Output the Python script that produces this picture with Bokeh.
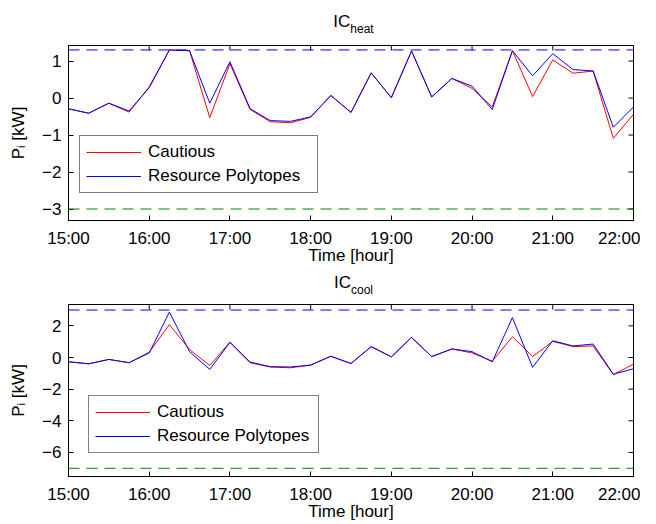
import math
from bokeh.plotting import figure
from bokeh.layouts import column
from bokeh.models import Span, Legend, LegendItem, FixedTicker, Div
from bokeh.embed import file_html
from bokeh.resources import INLINE

# ---- data ----
times = ["15:00", "15:15", "15:30", "15:45", "16:00", "16:15", "16:30", "16:45",
         "17:00", "17:15", "17:30", "17:45", "18:00", "18:15", "18:30", "18:45",
         "19:00", "19:15", "19:30", "19:45", "20:00", "20:15", "20:30", "20:45",
         "21:00", "21:15", "21:30", "21:45", "22:00"]

heat_cautious = [-0.29, -0.41, -0.14, -0.38, 0.30, 1.30, 1.28, -0.53, 0.93, -0.31,
                 -0.64, -0.67, -0.52, 0.07, -0.39, 0.68, 0.01, 1.27, 0.03, 0.53,
                 0.26, -0.24, 1.28, 0.04, 1.03, 0.67, 0.73, -1.09, -0.44]
heat_polytopes = [-0.29, -0.41, -0.14, -0.35, 0.28, 1.30, 1.28, -0.14, 0.98, -0.29,
                  -0.61, -0.63, -0.51, 0.07, -0.39, 0.68, 0.01, 1.27, 0.03, 0.53,
                  0.32, -0.31, 1.28, 0.60, 1.20, 0.77, 0.73, -0.79, -0.24]

cool_cautious = [-0.27, -0.40, -0.12, -0.33, 0.33, 2.08, 0.50, -0.50, 0.96, -0.33,
                 -0.60, -0.65, -0.48, 0.08, -0.38, 0.69, 0.04, 1.27, 0.06, 0.54,
                 0.29, -0.23, 1.31, 0.06, 1.02, 0.69, 0.73, -1.08, -0.42]
cool_polytopes = [-0.27, -0.40, -0.12, -0.33, 0.29, 2.87, 0.37, -0.75, 0.96, -0.29,
                  -0.58, -0.60, -0.48, 0.08, -0.38, 0.69, 0.04, 1.27, 0.06, 0.54,
                  0.37, -0.27, 2.52, -0.62, 1.06, 0.73, 0.85, -1.06, -0.71]

heat_upper, heat_lower = 1.3, -3.0
cool_upper, cool_lower = 3.0, -7.0

x_tick_labels = ["15:00", "16:00", "17:00", "18:00", "19:00", "20:00", "21:00", "22:00"]
heat_yticks = [-3, -2, -1, 0, 1]
cool_yticks = [-6, -4, -2, 0, 2]
series_names = ["Cautious", "Resource Polytopes"]
series_colors = ["#ff0000", "#0000ff"]

FONT = "Liberation Sans"


def to_hours(s):
    h, m = s.split(":")
    return int(h) + int(m) / 60.0


def fmt(v):
    return str(v).replace("-", "\u2212")


x = [to_hours(t) for t in times]
x_ticks = [to_hours(t) for t in x_tick_labels]
X0, X1 = x_ticks[0], x_ticks[-1]


def style_axis(ax):
    ax.major_tick_in = 5
    ax.major_tick_out = 0
    ax.minor_tick_in = 0
    ax.minor_tick_out = 0
    ax.axis_line_color = "black"
    ax.major_tick_line_color = "black"
    ax.major_label_text_font = FONT
    ax.major_label_text_color = "black"
    ax.major_label_text_font_size = "17px"
    ax.axis_label_text_font = FONT
    ax.axis_label_text_font_style = "normal"
    ax.axis_label_text_font_size = "17px"
    ax.axis_label_text_color = "black"


def make_title(sub, height, pad_top):
    html = ('<div style="width:565px;font-family:\'Liberation Sans\',Arial,sans-serif;'
            'font-size:17px;line-height:20px;text-align:center;color:#000;'
            'padding-top:%dpx;white-space:nowrap"><span style="margin-left:6px">IC</span>'
            '<span style="font-size:12px;position:relative;top:6px">%s</span></div>'
            % (pad_top, sub))
    return Div(text=html, width=565, height=height, margin=(0, 0, 0, 68))


def make_plot(frame_h, border_top, yr, yticks, y_c, y_p, upper, lower, legend_loc,
              label_w):
    p = figure(frame_width=565, frame_height=frame_h, x_range=(X0, X1), y_range=yr,
               output_backend="svg", toolbar_location=None,
               min_border_left=68, min_border_right=7,
               min_border_top=border_top, min_border_bottom=40)
    p.xgrid.visible = False
    p.ygrid.visible = False
    p.outline_line_color = "black"
    p.outline_line_alpha = 1.0
    p.background_fill_color = "white"

    xa = p.xaxis[0]
    xa.ticker = FixedTicker(ticks=x_ticks)
    xa.major_label_overrides = {t: l for t, l in zip(x_ticks, x_tick_labels)}
    xa.axis_label = "Time [hour]"
    style_axis(xa)
    xa.major_label_standoff = 8
    xa.axis_label_standoff = -5

    ya = p.yaxis[0]
    ya.ticker = FixedTicker(ticks=yticks)
    yo = {float(v): fmt(v) for v in yticks}
    yo.update({int(v): fmt(v) for v in yticks})
    ya.major_label_overrides = yo
    ya.axis_label = "P\u1d62 [kW]"
    style_axis(ya)
    ya.major_label_standoff = 7
    ya.axis_label_standoff = 11

    # inward ticks on the top and right edges (clipped to the frame)
    p.scatter(x_ticks, [yr[1]] * len(x_ticks), marker="dash", angle=math.pi / 2,
              size=10, line_color="black", line_width=1)
    p.scatter([X1] * len(yticks), yticks, marker="dash", angle=0,
              size=10, line_color="black", line_width=1)

    p.add_layout(Span(location=upper, dimension="width", line_color="#0000ff",
                      line_width=1, line_dash="11 7"))
    p.add_layout(Span(location=lower, dimension="width", line_color="#008000",
                      line_width=1, line_dash="11 7"))

    r1 = p.line(x, y_c, line_color=series_colors[0], line_width=1)
    r2 = p.line(x, y_p, line_color=series_colors[1], line_width=1)
    legend = Legend(items=[LegendItem(label=series_names[0], renderers=[r1]),
                           LegendItem(label=series_names[1], renderers=[r2])],
                    location=legend_loc, margin=0, padding=6, spacing=4,
                    glyph_width=55, glyph_height=20, label_height=20,
                    label_width=label_w, label_standoff=7, label_text_font=FONT,
                    label_text_font_size="17px", label_text_color="black",
                    border_line_color="black", border_line_width=1,
                    background_fill_color="white", background_fill_alpha=1.0)
    p.add_layout(legend)
    return p


t1 = make_title("heat", 40, 12)
p1 = make_plot(175, 5, (-3.31, 1.42), heat_yticks, heat_cautious, heat_polytopes,
               heat_upper, heat_lower, (11, 27), 163)
t2 = make_title("cool", 33, 6)
p2 = make_plot(172, 4, (-7.52, 3.35), cool_yticks, cool_cautious, cool_polytopes,
               cool_upper, cool_lower, (20, 23), 155)

layout = column(t1, p1, t2, p2, spacing=0)
open("out.html", "w").write(file_html(layout, INLINE))
